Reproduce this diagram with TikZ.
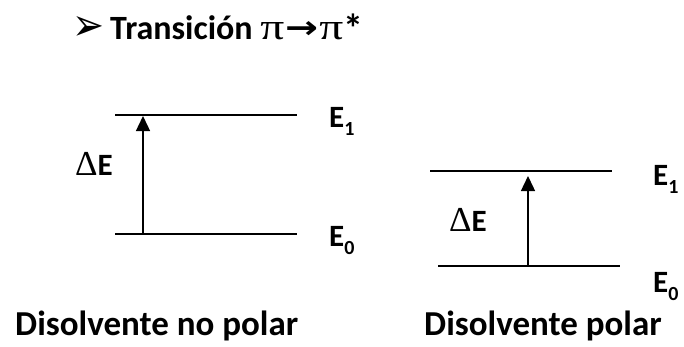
\documentclass[tikz,border=0pt]{standalone}
\usepackage{fontspec}
\setmainfont{Carlito}
\newfontfamily\symfont{Liberation Serif}
\newfontfamily\djv{DejaVu Sans}
\usetikzlibrary{arrows.meta}
\newcommand{\lvlsub}[1]{E\raisebox{-0.27em}{\fontsize{20}{20}\selectfont #1}}
\newcommand{\bigdelta}{{\symfont\mdseries\fontsize{35}{35}\selectfont Δ}}
\newcommand{\bigpi}{{\symfont\mdseries\resizebox{24pt}{17pt}{π}}}
\begin{document}
\begin{tikzpicture}[x=1pt,y=-1pt,
  level/.style={line width=2.6pt},
  trans/.style={line width=1.4pt,-{Triangle[length=15pt,width=14pt]}},
  lbl/.style={font=\fontsize{31}{31}\selectfont\bfseries,inner sep=0pt,anchor=base west},
  ttl/.style={font=\fontsize{34}{34}\selectfont\bfseries,inner sep=0pt,anchor=base west},
  captext/.style={font=\fontsize{35}{35}\selectfont\bfseries,inner sep=0pt,anchor=base west}]
\useasboundingbox (0,0) rectangle (684,346);
% title
\node[ttl] (title) at (72,39) {\raisebox{-1pt}{\resizebox{32pt}{24pt}{\djv ➢}}\hspace{6pt}Transición \bigpi\hspace{1pt}\raisebox{1pt}{\resizebox{33pt}{17pt}{\djv\bfseries →}}\hspace{1pt}\bigpi{\fontsize{40}{40}\selectfont\raisebox{-3pt}{*}}};
% left diagram
\coordinate (la1) at (115,115);
\coordinate (lb1) at (297,115);
\coordinate (la0) at (115,234);
\coordinate (lb0) at (297,234);
\draw[level] (la1) -- (lb1);
\draw[level] (la0) -- (lb0);
\coordinate (lt) at (143,234);
\coordinate (lh) at (143,116);
\draw[trans] (lt) -- (lh);
\node[lbl] (le1) at (329,127) {\lvlsub{1}};
\node[lbl] (le0) at (329,246) {\lvlsub{0}};
\node[lbl] (lde) at (75,175) {\bigdelta E};
% right diagram
\coordinate (ra1) at (430,171);
\coordinate (rb1) at (612,171);
\coordinate (ra0) at (438,266);
\coordinate (rb0) at (620,266);
\draw[level] (ra1) -- (rb1);
\draw[level] (ra0) -- (rb0);
\coordinate (rt) at (528,266);
\coordinate (rh) at (528,176);
\draw[trans] (rt) -- (rh);
\node[lbl] (re1) at (653,185) {\lvlsub{1}};
\node[lbl] (re0) at (653,292) {\lvlsub{0}};
\node[lbl] (rde) at (449,231) {\bigdelta E};
% captions
\node[captext] (capl) at (15,335) {Disolvente no polar};
\node[captext] (capr) at (424,335) {Disolvente polar};
\end{tikzpicture}
\end{document}
